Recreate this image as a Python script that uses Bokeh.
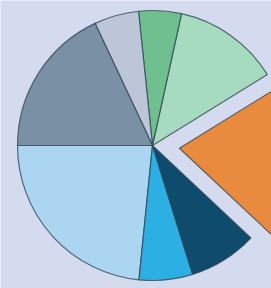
import math
from bokeh.plotting import figure
from bokeh.models import ColumnDataSource, Range1d
from bokeh.embed import file_html
from bokeh.resources import INLINE

# Slice shares (percent), counter-clockwise starting from the exploded orange slice
labels = ["Orange", "Light green", "Green", "Light grey", "Slate", "Light blue", "Cyan", "Navy"]
values = [20.8, 12.75, 5.1, 5.35, 18.0, 23.4, 6.4, 8.2]
colors = ["#e98b3f", "#a6dbbf", "#70bf8e", "#bcc6d8", "#7a90a4", "#acd5f1", "#2cafe2", "#0e4b6c"]

W, H = 271, 288
START_DEG = -43.2
CX, CY, R = 152, H - 145, 135
EXPLODE = {0: 27}

total = sum(values)
starts, ends, xs, ys = [], [], [], []
a = math.radians(START_DEG)
for i, v in enumerate(values):
    span = 2 * math.pi * v / total
    starts.append(a)
    ends.append(a + span)
    mid = a + span / 2
    off = EXPLODE.get(i, 0)
    xs.append(CX + off * math.cos(mid))
    ys.append(CY + off * math.sin(mid))
    a += span

src = ColumnDataSource(dict(x=xs, y=ys, start=starts, end=ends, color=colors, label=labels))

p = figure(width=W, height=H, output_backend="svg", toolbar_location=None,
           x_range=Range1d(0, W), y_range=Range1d(0, H), min_border=0)
p.axis.visible = False
p.grid.visible = False
p.outline_line_color = None
p.background_fill_color = "#d5dbef"
p.border_fill_color = "#d5dbef"

p.wedge(x="x", y="y", radius=R, start_angle="start", end_angle="end",
        fill_color="color", line_color="#34495a", line_width=1.2, line_alpha=0.8, source=src)

open("out.html", "w").write(file_html(p, INLINE))
